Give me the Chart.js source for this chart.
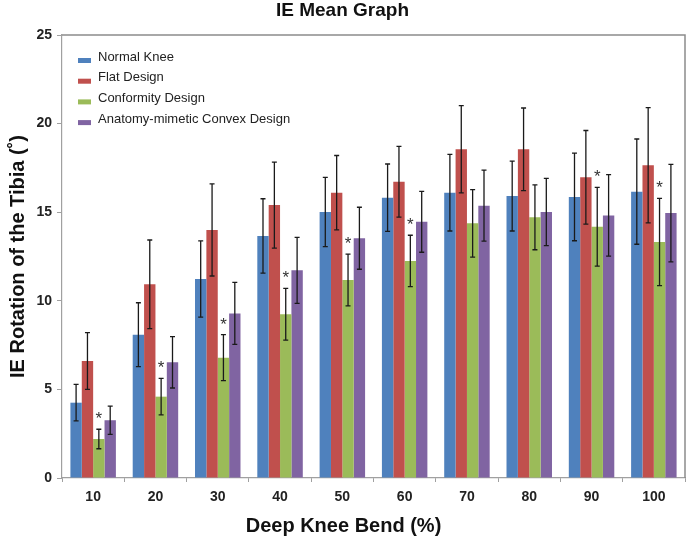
<!DOCTYPE html>
<html>
<head>
<meta charset="utf-8">
<title>IE Mean Graph</title>
<script src="https://cdn.jsdelivr.net/npm/chart.js@4/dist/chart.umd.min.js"></script>
<style>
  html, body { margin: 0; padding: 0; background: #fff; }
  #wrap { width: 687px; height: 540px; }
</style>
</head>
<body>
<div id="wrap"><canvas id="chart" width="687" height="540"></canvas></div>
<script>
// Deep knee bend (%) categories
const bendLabels = ['10', '20', '30', '40', '50', '60', '70', '80', '90', '100'];

// IE rotation means (deg) per design
const normalKnee = [4.25, 8.09, 11.23, 13.66, 15.01, 15.82, 16.1, 15.91, 15.86, 16.16];
const flatDesign = [6.6, 10.93, 14.0, 15.4, 16.1, 16.72, 18.55, 18.55, 16.97, 17.65];
const conformityDesign = [2.2, 4.59, 6.79, 9.24, 11.17, 12.25, 14.37, 14.71, 14.18, 13.32];
const convexDesign = [3.26, 6.53, 9.29, 11.72, 13.53, 14.46, 15.37, 15.01, 14.82, 14.95];

// standard deviations (error bars)
const normalKneeSd = [1.03, 1.8, 2.15, 2.1, 1.95, 1.9, 2.16, 1.97, 2.47, 2.97];
const flatDesignSd = [1.6, 2.5, 2.6, 2.43, 2.1, 2.0, 2.46, 2.33, 2.64, 3.25];
const conformityDesignSd = [0.55, 1.03, 1.3, 1.46, 1.46, 1.45, 1.9, 1.83, 2.22, 2.46];
const convexDesignSd = [0.8, 1.45, 1.75, 1.86, 1.75, 1.72, 2.0, 1.9, 2.3, 2.75];

// significance marks over the conformity design bars
const conformityStars = [true, true, true, true, true, true, false, false, true, true];

const yTicks = [0, 5, 10, 15, 20, 25];

const FONT = "'Liberation Sans', Arial, sans-serif";
const X_TITLE = 'Deep Knee Bend (%)';

// error bars + asterisks
const errorBarPlugin = {
  id: 'errorBars',
  afterDatasetsDraw(chart) {
    const ctx = chart.ctx;
    const yScale = chart.scales.y;
    ctx.save();
    ctx.strokeStyle = '#1a1a1a';
    ctx.lineWidth = 1.3;
    chart.data.datasets.forEach((ds, di) => {
      const meta = chart.getDatasetMeta(di);
      meta.data.forEach((bar, i) => {
        const v = ds.data[i];
        const sd = ds.sd[i];
        const x = bar.x;
        const yTop = yScale.getPixelForValue(v + sd);
        const yBot = yScale.getPixelForValue(v - sd);
        ctx.beginPath();
        ctx.moveTo(x, yTop);
        ctx.lineTo(x, yBot);
        ctx.moveTo(x - 2.5, yTop);
        ctx.lineTo(x + 2.5, yTop);
        ctx.moveTo(x - 2.5, yBot);
        ctx.lineTo(x + 2.5, yBot);
        ctx.stroke();
        if (ds.stars && ds.stars[i]) {
          ctx.fillStyle = '#333';
          ctx.font = '17px ' + FONT;
          ctx.textAlign = 'center';
          ctx.textBaseline = 'alphabetic';
          ctx.fillText('*', x, yTop - 5);
        }
      });
    });
    ctx.restore();
  }
};

// frame on top/right of the plot, legend inside it, x title centred on the page
const framePlugin = {
  id: 'frameLegend',
  afterDraw(chart) {
    const ctx = chart.ctx;
    const a = chart.chartArea;
    ctx.save();
    ctx.strokeStyle = '#8c8c8c';
    ctx.lineWidth = 1.5;
    ctx.beginPath();
    ctx.moveTo(a.left, a.top);
    ctx.lineTo(a.right, a.top);
    ctx.lineTo(a.right, a.bottom);
    ctx.stroke();

    ctx.font = '13px ' + FONT;
    ctx.textAlign = 'left';
    ctx.textBaseline = 'middle';
    chart.data.datasets.forEach((ds, i) => {
      const y = a.top + 22 + i * 20.7;
      ctx.fillStyle = ds.backgroundColor;
      ctx.fillRect(a.left + 16, y + 1, 13, 5);
      ctx.fillStyle = '#222';
      ctx.fillText(ds.label, a.left + 36, y);
    });

    ctx.font = 'bold 20px ' + FONT;
    ctx.fillStyle = '#111';
    ctx.textAlign = 'center';
    ctx.fillText(X_TITLE, chart.width / 2, 526);
    ctx.restore();
  }
};

const datasets = [
  { label: 'Normal Knee', data: normalKnee, sd: normalKneeSd, backgroundColor: '#4F81BD' },
  { label: 'Flat Design', data: flatDesign, sd: flatDesignSd, backgroundColor: '#C0504D' },
  { label: 'Conformity Design', data: conformityDesign, sd: conformityDesignSd, stars: conformityStars, backgroundColor: '#9BBB59' },
  { label: 'Anatomy-mimetic Convex Design', data: convexDesign, sd: convexDesignSd, backgroundColor: '#8064A2' }
];

new Chart(document.getElementById('chart').getContext('2d'), {
  type: 'bar',
  data: { labels: bendLabels, datasets: datasets },
  options: {
    responsive: false,
    animation: false,
    datasets: { bar: { categoryPercentage: 0.73, barPercentage: 1.0, borderWidth: 0 } },
    layout: { padding: { top: 0, right: 2, bottom: 0, left: 0 } },
    plugins: {
      legend: { display: false },
      tooltip: { enabled: false },
      title: {
        display: true,
        text: 'IE Mean Graph',
        color: '#111',
        font: { family: FONT, size: 19, weight: 'bold', lineHeight: 1 },
        padding: { top: 1, bottom: 15 }
      }
    },
    scales: {
      x: {
        afterFit: s => { s.height = 62; },
        grid: { drawOnChartArea: false, drawTicks: true, tickLength: 4, color: '#a0a0a0' },
        border: { color: '#a0a0a0', width: 1.2 },
        ticks: { color: '#222', padding: 7, font: { family: FONT, size: 14, weight: 'bold' } }
      },
      y: {
        min: 0,
        max: 25,
        afterFit: s => { s.width = 62; },
        afterBuildTicks: s => { s.ticks = yTicks.map(v => ({ value: v })); },
        grid: { drawOnChartArea: false, drawTicks: true, tickLength: 5, color: '#a0a0a0' },
        border: { color: '#a0a0a0', width: 1.2 },
        ticks: { color: '#222', padding: 5, font: { family: FONT, size: 14, weight: 'bold' } },
        title: {
          display: true,
          text: 'IE Rotation of the Tibia (˚)',
          color: '#111',
          font: { family: FONT, size: 20, weight: 'bold', lineHeight: 1.2 },
          padding: { top: 6, bottom: 0 }
        }
      }
    }
  },
  plugins: [errorBarPlugin, framePlugin]
});
</script>
</body>
</html>
